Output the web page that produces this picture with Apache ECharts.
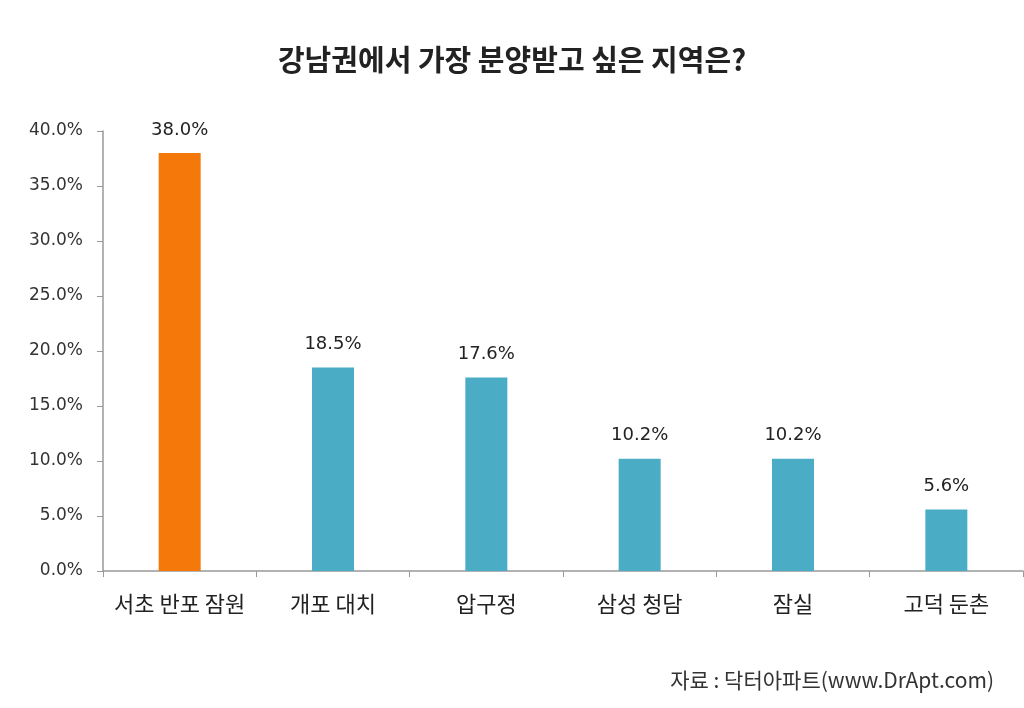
<!DOCTYPE html>
<html><head><meta charset="utf-8">
<script src="https://cdn.jsdelivr.net/npm/echarts@6/dist/echarts.min.js"></script>
<style>html,body{margin:0;padding:0;background:#fff}#c{width:1024px;height:708px}</style>
</head><body><div id="c"></div>
<script>
const categories = ['서초 반포 잠원','개포 대치','압구정','삼성 청담','잠실','고덕 둔촌'];
const values = [38.0, 18.5, 17.6, 10.2, 10.2, 5.6];
const highlightIndex = 0;
const titleText = '강남권에서 가장 분양받고 싶은 지역은?';
const sourceText = '자료 : 닥터아파트(www.DrApt.com)';

const font = '"Noto Sans CJK KR", "Noto Sans", sans-serif';
const numFont = '"Verdana","DejaVu Sans", sans-serif';
const chart = echarts.init(document.getElementById('c'));
chart.setOption({
  backgroundColor: '#fff',
  animation: false,
  title: {
    text: titleText, left: 'center', top: 40,
    textStyle: {fontFamily: font, fontSize: 29, fontWeight: 'bold', color: '#222'}
  },
  graphic: [{
    type: 'text', right: 30, top: 670,
    style: {text: sourceText, font: '21px ' + font, fill: '#333'}
  }],
  grid: {left: 103, right: 1, top: 131, bottom: 137},
  xAxis: {
    type: 'category', data: categories,
    axisLine: {lineStyle: {color: '#999', width: 1.5}},
    axisTick: {show: true, length: 6, interval: 0, lineStyle: {color: '#999'}},
    axisLabel: {fontFamily: font, fontSize: 22, color: '#222', margin: 22, interval: 0}
  },
  yAxis: {
    type: 'value', min: 0, max: 40, interval: 5,
    axisLine: {show: true, lineStyle: {color: '#999', width: 1.5}},
    axisTick: {show: true, length: 6, inside: false, lineStyle: {color: '#999'}},
    splitLine: {show: false},
    axisLabel: {fontFamily: numFont, fontSize: 17, color: '#333', margin: 20,
      formatter: v => v.toFixed(1) + '%'}
  },
  series: [{
    type: 'bar', barWidth: 42,
    data: values.map((v, i) => ({value: v, itemStyle: {color: i === highlightIndex ? '#F5780A' : '#4BACC6'}})),
    label: {show: true, position: 'top', distance: 14, fontFamily: numFont, fontSize: 18, color: '#222',
      formatter: p => p.value.toFixed(1) + '%'}
  }]
});
</script></body></html>
